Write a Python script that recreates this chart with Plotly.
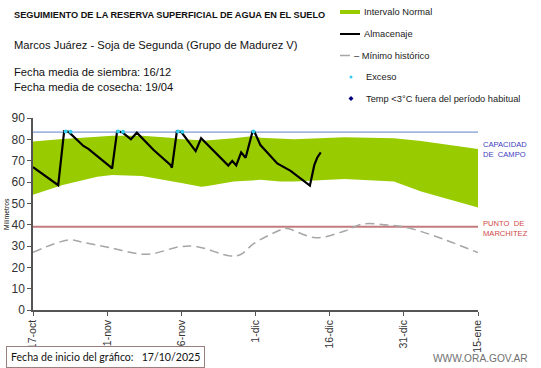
import plotly.graph_objects as go

# ---- data (x = days since 17-oct-2025) ----
tick_days = [0, 15, 30, 45, 60, 75, 90]
tick_labels = ["17-oct", "1-nov", "16-nov", "1-dic", "16-dic", "31-dic", "15-ene"]

band_days = [0, 6, 13, 16, 22, 27.8, 30, 34, 35, 40.6, 44.6, 46, 50, 52.8, 63, 73, 78.5, 81.8, 90]
band_upper = [79, 80.2, 81.2, 81.7, 81.7, 80.8, 80, 79.6, 79.4, 80.5, 81.6, 80.8, 80.5, 80, 81, 80.5, 79.2, 78.1, 75.5]
band_lower = [54, 58.6, 62.5, 63.3, 62.8, 60.2, 59.5, 57.8, 58, 60.2, 61, 61, 60.2, 60.2, 61.4, 60.2, 55.5, 53.4, 48.1]

stor_days = [0, 5.1, 6.3, 7.2, 10.2, 11.2, 15.6, 16, 17, 18, 19.8, 21, 24.4, 27.8, 28.1, 29.1, 30,
             32.9, 34, 39.5, 40.3, 41.1, 42.1, 43, 44.4, 44.8, 46, 49.4, 52.1, 56, 56.9, 57.5, 58.2]
stor_vals = [67, 58.5, 83.8, 83.5, 76.9, 75.5, 67.2, 66.3, 83.6, 83.4, 80, 83.1, 75, 68, 66.7, 83.8, 83.4,
             74.5, 80.5, 67.7, 69.9, 67.8, 73.9, 71.4, 83.6, 83.4, 77.3, 68.7, 65.2, 58.3, 68, 71.5, 73.9]

min_days = [0, 7.2, 10.2, 15.6, 23, 29.8, 33.2, 40, 42, 44.7, 50, 51.1, 57.2, 63, 66.6, 71.7, 75, 81.2, 90]
min_vals = [27, 32.8, 31.7, 29.2, 26.1, 29.7, 29.7, 25.3, 26, 31.2, 37.5, 38.3, 33.9, 37, 40.3, 39.8, 39, 34.7, 26.9]

exceso_days = [6.6, 7.6, 17.2, 18.2, 29.3, 30.2, 44.6]
exceso_vals = [83.7, 83.6, 83.7, 83.5, 83.7, 83.5, 83.7]

capacidad_campo = 83.4
punto_marchitez = 39

legend_labels = ["Intervalo Normal", "Almacenaje", "– Mínimo histórico", "Exceso",
                 "Temp <3°C fuera del período habitual"]

FONT = "Liberation Sans, Arial, sans-serif"
GREEN = "#99cc00"
CYAN = "#33ccee"
NAVY = "#000080"

fig = go.Figure()

fig.add_trace(go.Scatter(x=band_days, y=band_lower, mode="lines", line=dict(width=0, color=GREEN),
                         hoverinfo="skip"))
fig.add_trace(go.Scatter(x=band_days, y=band_upper, mode="lines", line=dict(width=0, color=GREEN),
                         fill="tonexty", fillcolor=GREEN, name=legend_labels[0]))
fig.add_trace(go.Scatter(x=[0, 90], y=[capacidad_campo] * 2, mode="lines",
                         line=dict(color="#5b80c8", width=1)))
fig.add_trace(go.Scatter(x=[0, 90], y=[punto_marchitez] * 2, mode="lines",
                         line=dict(color="#c27c7e", width=2)))
fig.add_trace(go.Scatter(x=min_days, y=min_vals, mode="lines",
                         line=dict(color="#a6a6a6", width=1.5, dash="9px,5px", shape="spline"),
                         name=legend_labels[2]))
fig.add_trace(go.Scatter(x=stor_days, y=stor_vals, mode="lines", line=dict(color="black", width=2.2),
                         name=legend_labels[1]))
fig.add_trace(go.Scatter(x=exceso_days, y=exceso_vals, mode="markers",
                         marker=dict(color=CYAN, size=4), name=legend_labels[3]))

L, R, T, B = 33, 478, 118, 310
W, H = 541, 368

fig.update_layout(
    width=W, height=H,
    margin=dict(l=L, r=W - R, t=T, b=H - B),
    paper_bgcolor="white", plot_bgcolor="white",
    font=dict(family=FONT, size=11, color="#222"),
    showlegend=False,
    xaxis=dict(range=[0, 90], tickvals=tick_days, ticktext=tick_labels, tickangle=-90,
               showgrid=False, zeroline=False, showline=True, linecolor="#555", linewidth=1.5,
               ticks="outside", ticklen=4, tickcolor="#555", tickfont=dict(size=10.5, color="#333"),
               automargin=False),
    yaxis=dict(range=[0, 90], dtick=10, showgrid=False, zeroline=False, showline=True,
               linecolor="#555", linewidth=1.5, ticks="outside", ticklen=4, tickcolor="#555",
               tickfont=dict(size=12, color="#333"), automargin=False),
)

def px_x(px):
    return (px - L) / float(R - L)

def px_y(py):
    return (B - py) / float(B - T)

def text(t, x, y, size, color="#111", xanchor="left", family=FONT, **kw):
    fig.add_annotation(text=t, x=px_x(x), y=px_y(y), xref="paper", yref="paper",
                       xanchor=xanchor, yanchor="middle", showarrow=False,
                       font=dict(size=size, color=color, family=family), **kw)

# titles
text("<b>SEGUIMIENTO DE LA RESERVA SUPERFICIAL DE AGUA EN EL SUELO</b>", 12, 15, 9.2)
text("Marcos Juárez - Soja de Segunda (Grupo de Madurez V)", 12, 45, 11.2)
text("Fecha media de siembra: 16/12", 12, 72.5, 11.2)
text("Fecha media de cosecha: 19/04", 12, 86.5, 11.2)

# y-axis title
text("Milímetros", 6, 214, 6.8, xanchor="center", textangle=-90)

# manual legend
LX = 340
leg_y = [12, 34, 55.5, 77, 98.5]
fig.add_shape(type="rect", xref="paper", yref="paper", x0=px_x(LX), x1=px_x(LX + 20),
              y0=px_y(leg_y[0] + 2), y1=px_y(leg_y[0] - 2), fillcolor=GREEN, line=dict(width=0))
fig.add_shape(type="line", xref="paper", yref="paper", x0=px_x(LX), x1=px_x(LX + 20),
              y0=px_y(leg_y[1]), y1=px_y(leg_y[1]), line=dict(color="black", width=2))
fig.add_shape(type="line", xref="paper", yref="paper", x0=px_x(LX), x1=px_x(LX + 10),
              y0=px_y(leg_y[2]), y1=px_y(leg_y[2]), line=dict(color="#a6a6a6", width=1.5))
fig.add_shape(type="circle", xref="paper", yref="paper", x0=px_x(LX + 9.5), x1=px_x(LX + 12.5),
              y0=px_y(leg_y[3] + 1.5), y1=px_y(leg_y[3] - 1.5), fillcolor=CYAN, line=dict(width=0))
cx, cy = LX + 11, leg_y[4]
fig.add_shape(type="path", xref="paper", yref="paper",
              path="M {a},{b} L {c},{d} L {e},{f} L {g},{h} Z".format(
                  a=px_x(cx - 2.5), b=px_y(cy), c=px_x(cx), d=px_y(cy - 2.5),
                  e=px_x(cx + 2.5), f=px_y(cy), g=px_x(cx), h=px_y(cy + 2.5)),
              fillcolor=NAVY, line=dict(width=0))
LS = 9.3
text(legend_labels[0], LX + 22, leg_y[0], LS, color="#222")
text(legend_labels[1], LX + 22, leg_y[1], LS, color="#222")
text(legend_labels[2], LX + 12, leg_y[2], LS, color="#222")
text(legend_labels[3], LX + 24, leg_y[3], LS, color="#222")
text(legend_labels[4], LX + 24, leg_y[4], LS, color="#222")

# right labels
text("CAPACIDAD<br>DE  CAMPO", 481, 149.5, 7.6, color="#4040c0", align="left")
text("PUNTO  DE<br>MARCHITEZ", 481, 228.5, 7.6, color="#d04848", align="left")

# footer
text("Fecha de inicio del gráfico:   17/10/2025", 6, 356.5, 10.6, family="Lato, Open Sans, sans-serif",
     bordercolor="#9a7f7f", borderwidth=1, borderpad=4, bgcolor="white")
text("WWW.ORA.GOV.AR", 530, 358, 10.2, color="#707070", xanchor="right")

fig.write_html("out.html", config={"displayModeBar": False},
               post_script="document.body.style.margin='0';document.body.style.overflow='hidden';")
